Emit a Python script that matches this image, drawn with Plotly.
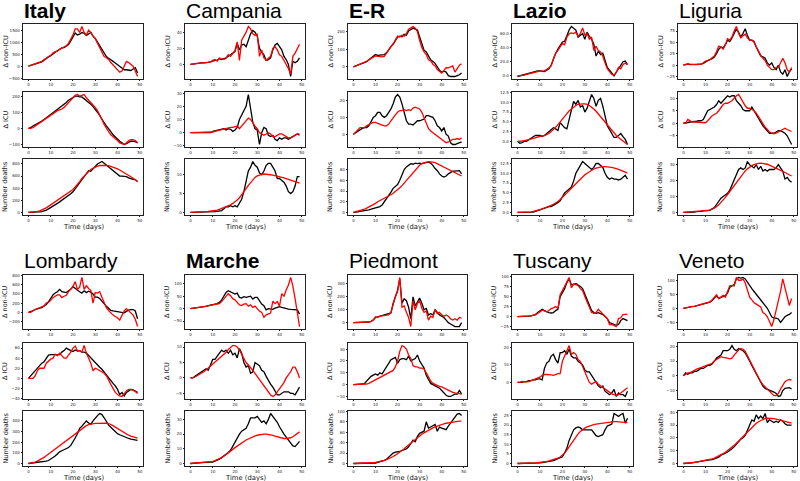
import plotly.graph_objects as go

W, H = 800, 481
DAYS = list(range(50))
X_TICKS = [0, 10, 20, 30, 40, 50]
ROW_LABELS = ["Δ non-ICU", "Δ ICU", "Number deaths"]

# ---------------- Italy ----------------
ITALY_NI_OBS = [0,30,60,100,130,150,180,250,330,380,
                430,520,580,640,700,760,770,820,900,1050,
                1200,1380,1300,1330,1400,1370,1280,1350,1400,1250,
                1150,1000,850,680,500,400,330,280,200,130,
                60,0,-80,-150,-150,-160,-180,-120,-60,-280]
ITALY_NI_MOD = [0,30,70,110,130,160,200,270,350,400,
                450,550,600,620,700,750,800,850,950,1100,
                1300,1550,1550,1400,1650,1400,1300,1500,1400,1250,
                1150,950,750,550,400,350,280,150,50,-50,
                -180,-250,-200,0,200,150,60,0,-200,-430]
ITALY_ICU_OBS = [0,5,15,22,30,35,45,55,65,80,
                 85,95,105,115,130,140,150,160,175,185,
                 190,200,200,195,195,185,175,165,150,135,
                 120,100,80,55,35,15,0,-20,-40,-55,
                 -70,-80,-90,-100,-95,-85,-80,-80,-82,-90]
ITALY_ICU_MOD = [0,0,5,15,25,35,40,50,60,75,
                 85,95,105,110,115,120,130,145,165,180,
                 190,205,210,200,205,210,190,175,165,150,
                 130,110,85,55,25,0,-20,-40,-55,-65,
                 -75,-90,-95,-100,-90,-75,-70,-70,-75,-90]
ITALY_D_OBS = [0,0,0,2,5,8,15,25,40,60,
               80,100,130,150,175,200,220,250,280,310,
               340,390,450,510,560,600,650,690,680,720,
               770,800,820,840,810,780,750,710,680,650,
               620,600,600,595,590,570,555,545,540,510]
ITALY_D_MOD = [0,2,5,10,18,28,40,55,75,100,
               125,150,175,200,225,250,275,300,325,350,
               380,420,460,510,560,600,640,680,710,730,
               750,765,775,780,780,778,772,762,750,735,
               720,700,680,660,640,615,590,565,540,510]
ITALY_TICKS = [[-500,0,500,1000,1500],[-100,0,100,200],[0,200,400,600,800]]

# ---------------- Campania ----------------
CAMPANIA_NI_OBS = [0,0.5,1,1,1.5,2,2,2,2.5,3,
                   4,5,5,7,6,7,8,10,12,14,
                   16,26,18,24,25,22,30,38,42,40,
                   35,20,15,12,5,6,8,18,24,26,
                   22,18,10,6,0,-15,4,2,4,8]
CAMPANIA_NI_MOD = [0,0.5,1,1.5,2,2,2,2.5,3,3,
                   5,6,4,8,7,6,8,12,10,14,
                   17,28,5,30,35,40,47,44,38,36,
                   38,10,18,8,5,8,10,20,22,18,
                   12,10,5,0,-5,-12,10,14,20,25]
CAMPANIA_ICU_OBS = [0,0,0,0,0,0,0,0,0,0,
                    1,1.5,2,2,2.5,3,2,3,2.5,1,
                    2,4,10,13,16,20,29,18,8,3,
                    2,-9,0,4,3,-2,-3,-2,-5,-6,
                    -4,-5,-4,-4,-5,-4,-3,-2,-1,-2]
CAMPANIA_ICU_MOD = [0,0,0,0,0,0,0,0,0,0,
                    0.5,1,1.5,2,2.5,3,3,3.5,4,4,
                    4.5,5,3,5,7,9,11,10,7,5,
                    3,0,-1,-2,-1,0,-1,-3,-3,-2,
                    -1,-1,-2,-3,-4,-4,-3,-2,-1,-1]
CAMPANIA_D_OBS = [0,0,0,0,0,0,0,0,0,0,
                  0.1,0.2,0.3,0.3,0.5,1,1.5,1.5,1.8,1.5,
                  1.8,1.5,2.5,3.5,5.5,8,11,12,13.5,12.5,
                  12,10.5,10,11,12.5,13,13,12,11,9,
                  9,8.5,8,7,5.5,5,5.5,7,9.5,9.5]
CAMPANIA_D_MOD = [0,0,0.02,0.05,0.08,0.1,0.15,0.2,0.25,0.3,
                  0.4,0.5,0.6,0.8,1,1.2,1.4,1.7,2,2.4,
                  2.8,3.3,3.9,4.6,5.4,6.3,7.2,8,8.7,9.3,
                  9.7,10,10.1,10.2,10.2,10.1,10,9.9,9.8,9.7,
                  9.6,9.4,9.2,9,8.8,8.6,8.4,8.2,8,7.8]
CAMPANIA_TICKS = [[0,20,40],[-10,0,10,20,30],[0,5,10]]

# ---------------- Emilia-Romagna ----------------
ER_NI_OBS = [0,5,10,15,22,25,30,40,50,60,
             70,65,68,68,70,80,100,115,130,150,
             170,175,172,185,180,205,215,220,215,210,
             170,130,95,85,60,40,30,20,0,-20,
             -30,-25,-30,-50,-55,-55,-55,-50,-45,-35]
ER_NI_MOD = [0,5,12,18,22,25,32,40,48,55,
             62,60,58,57,60,80,100,115,130,150,
             175,170,180,175,190,215,225,230,220,200,
             150,110,85,70,40,35,15,5,-15,-25,
             -35,-20,-5,-5,0,5,-30,-10,10,18]
ER_ICU_OBS = [0,1,2,3,3.5,4,4,5,8,10,
              11,13,13,11,10,11,13,15,18,22,
              23.5,22,18,12,8,6,6,5.5,6.5,8,
              8,8.5,9,11,11,10.5,10,8,5,4,
              2,4,0,-1,-5,-6,-6,-5.5,-5,-4.5]
ER_ICU_MOD = [0,1.5,3,4,4,4,5,6,6.5,7,
              7,6.5,6,5.5,5,5,6,8,10,11.5,
              13,14,14,14.5,14,14.5,14,15.5,16,15.5,
              15,13,10,6,3.5,2,1,0,-1,-2,
              -3,-4,-5,-4.5,-3.5,-3,-3,-2.5,-3,-2]
ER_D_OBS = [0,0,1,2,2.5,3,4,5,6,7,
            8,9,11,14,20,25,30,38,45,48,
            52,60,70,80,85,88,91,90,92,91,
            92,91,92,93,94,92,88,82,78,72,
            68,66,68,72,75,77,77,78,78,72]
ER_D_MOD = [0,1,2,3,4.5,6,8,10,12,14,
            17,20,22,25,27,29,31,33,36,39,
            42,46,50,55,60,65,70,75,80,84,
            88,91,93,94,95,95,94,93,91,89,
            87,85,83,81,79,77,75,73,71,68]
ER_TICKS = [[0,100,200],[0,10,20],[0,20,40,60,80,100]]

# ---------------- Lazio ----------------
LAZIO_NI_OBS = [-1,0,0,1,2,3,4,5,6,7,
                7,7,6,8,10,15,25,32,38,43,
                48,49,58,65,70,68,65,55,58,60,
                52,62,56,52,45,28,35,30,32,22,
                12,8,3,0,5,10,15,20,21,16]
LAZIO_NI_MOD = [0,0,0,1,2,3,4,5,5.5,6,
                6.5,7,7,9,11,14,24,32,36,42,
                46,44,55,60,61,60,62,56,60,68,
                58,60,52,55,36,42,36,34,28,18,
                10,6,2,1,5,12,10,16,18,16]
LAZIO_ICU_OBS = [0,-0.5,-0.3,0,0,0.3,0.8,1.2,1.5,1.5,
                 1.5,1.3,1.5,2,2.5,3,3.5,3.2,2.8,4.8,
                 4,3.5,3.2,6,8,10.2,9.5,10.5,8.8,9.2,
                 7.5,8.5,10.5,12,11,9,10.5,11,9,6,
                 4,3,2,1,1,1.5,2,1.2,0.5,-0.8]
LAZIO_ICU_MOD = [0,0,0.1,0.2,0.3,0.4,0.6,0.8,1,1.2,
                 1.3,1.4,1.5,1.7,2,2.5,3,3.6,4.3,5,
                 5.8,6.5,7.2,7.8,8.3,8.8,9.2,9.5,9.6,9.6,
                 9.6,9.5,9.2,8.8,8.3,7.7,7,6.3,5.5,4.7,
                 4,3.3,2.6,2,1.5,1,0.5,0,-0.4,-0.8]
LAZIO_D_OBS = [0,0,0,0,0,0,0,0.1,0.3,0.5,
               0.8,1,1,1.2,1.5,1.5,1.8,2,2.5,3,
               4,5,5.5,6,6.5,8,10,11,12,13,
               12.5,12,11.5,11,11.5,12.5,12.5,12,11.5,10,
               9,8.5,8.8,8.5,8.5,8.3,8.5,9,9.5,8.5]
LAZIO_D_MOD = [0,0,0,0,0.05,0.1,0.15,0.25,0.35,0.5,
               0.7,0.9,1.1,1.3,1.5,1.8,2.1,2.4,2.8,3.3,
               3.8,4.4,5,5.6,6.2,6.8,7.4,8,8.6,9.1,
               9.6,10,10.4,10.8,11.1,11.3,11.5,11.6,11.7,11.7,
               11.7,11.6,11.5,11.4,11.2,11,10.8,10.5,10.3,10]
LAZIO_TICKS = [[0,20,40,60],[0,2.5,5,7.5,10,12.5],[0,2.5,5,7.5,10,12.5]]

# ---------------- Liguria ----------------
LIG_NI_OBS = [0,1,2,1,1,1,1,1,2,4,
              8,10,12,14,18,25,35,40,38,45,
              55,52,60,70,80,72,62,70,80,65,
              55,55,52,40,28,20,18,15,5,0,
              5,-5,-10,0,-15,-20,-10,-25,-15,-8]
LIG_NI_MOD = [0,2,3,2,1,1,1,1,2,5,
              9,10,12,16,20,30,42,40,35,45,
              58,55,62,75,85,70,60,65,68,60,
              55,55,50,40,30,22,15,10,0,-5,
              -10,-10,-5,-5,5,15,5,-10,-15,-5]
LIG_ICU_OBS = [0,0,0.3,0.5,0.5,0.6,0.8,1,1,1.5,
               3,5,5.5,6,6.5,7.5,9,8,9,10,
               11,10.5,11,11,9,8,7,5.5,5,5,
               5,6.5,5,3.5,2,0,-1,-2,-3,-4,
               -4,-4,-3.5,-3,-3,-3.5,-4,-5,-6.5,-8.5]
LIG_ICU_MOD = [0,0,1.5,1,0.5,0.5,0.5,0.5,0.3,0.2,
               0.2,1,2,3,3.5,4,5,6.5,7.5,8,
               8,8.5,9,10,11,11.5,10,8,7,6,
               6,5.5,5,4,2.5,1,-0.5,-1.5,-2.5,-3.5,
               -4,-4.2,-4,-3.5,-3,-2.5,-2,-2.5,-3,-3.3]
LIG_D_OBS = [0,0,0.1,0.1,0.2,0.3,0.5,0.5,0.7,1,
             1,1.2,1.5,2,3,5,7,9,10,11,
             12,14,17,20,23,27,28,27,28,32,
             30,29,28,30,27,29,26,27,26,27,
             27,27,28,30,28,26,21,22,20,19]
LIG_D_MOD = [0,0.1,0.2,0.3,0.4,0.5,0.6,0.7,0.8,0.9,
             1,1.2,1.5,2,2.7,3.6,4.8,6.2,7.8,9.5,
             11.3,13.2,15.2,17.2,19.2,21.1,22.9,24.6,26.1,27.4,
             28.5,29.4,30.1,30.6,30.9,31,30.9,30.7,30.3,29.8,
             29.2,28.6,27.9,27.2,26.5,25.8,25.1,24.3,23.6,22.9]
LIG_TICKS = [[-25,0,25,50,75],[-5,0,5,10],[0,10,20,30]]

# ---------------- Lombardy ----------------
LOM_NI_OBS = [0,10,30,60,80,90,100,130,170,230,
              300,380,420,450,500,450,440,430,470,500,
              560,520,470,450,420,470,430,460,440,400,
              330,330,300,240,180,130,90,40,30,20,
              15,10,0,-10,20,50,60,60,30,-140]
LOM_NI_MOD = [0,0,40,60,80,90,110,140,200,220,
              260,320,350,380,380,320,350,370,450,500,
              560,670,500,550,760,500,580,520,480,200,
              430,420,450,330,200,100,40,-20,-60,-90,
              -120,-170,-80,30,80,30,-30,-60,-150,-310]
LOM_ICU_OBS = [0,5,12,16,20,25,30,33,40,46,
               47,47,46,46,47,52,55,60,57,55,
               53,56,54,55,52,52,50,45,40,36,
               30,25,22,18,12,8,0,-5,-10,-15,
               -22,-32,-28,-35,-28,-25,-22,-23,-25,-28]
LOM_ICU_MOD = [0,0,0,5,15,20,20,20,30,35,
               38,40,48,45,50,45,40,40,45,52,
               60,64,55,55,52,65,50,40,30,15,
               20,18,15,12,10,5,-5,-12,-20,-28,
               -32,-35,-36,-30,-25,-22,-22,-24,-26,-30]
LOM_D_OBS = [0,2,4,6,8,10,14,18,22,28,
             40,55,70,90,110,120,130,140,150,170,
             200,240,280,330,350,380,400,380,370,400,
             430,450,470,460,430,390,360,340,320,300,
             280,270,260,250,240,235,230,225,222,218]
LOM_D_MOD = [0,3,8,14,22,32,44,58,72,88,
             104,120,137,154,170,186,200,214,228,242,
             258,275,292,310,328,344,356,366,372,375,
             377,378,379,380,381,380,376,368,356,342,
             328,314,300,288,276,266,258,250,244,238]
LOM_TICKS = [[-200,0,200,400,600,800],[-40,-20,0,20,40,60],[0,100,200,300,400]]

# ---------------- Marche ----------------
MAR_NI_OBS = [0,1,2,3,4,5,7,9,12,15,
              17,18,20,25,35,50,65,72,68,62,
              58,62,45,42,48,45,48,50,38,45,
              45,30,18,12,-5,0,0,-3,2,5,
              8,5,2,0,-2,-3,-3,-2,-5,-22]
MAR_NI_MOD = [0,1,2,3,4,5,7,9,11,13,
              15,16,18,20,28,38,50,60,52,40,
              35,25,15,12,18,20,10,15,5,10,
              0,-10,-15,-35,-25,-20,-18,30,20,28,
              10,60,50,75,95,125,90,40,-20,-72]
MAR_ICU_OBS = [0,0,0.5,1,1.5,2,2.5,3,2.5,4,
               6,6,7,8,9,8.5,9,8,9,7.5,
               8,6.5,9.5,8,5,3.5,4,1.5,2,5,
               4.5,4,2.5,2,0.5,-1,-2,-3,-4.5,-5.5,
               -5.5,-5,-4.5,-4.5,-4.5,-5,-5,-5.5,-4,-3]
MAR_ICU_MOD = [0,0,0.3,0.7,1,1.5,2,2.6,3.2,3.8,
               4.4,5,5.6,6.2,6.8,7.5,8.3,9.2,10,10.5,
               10.5,10,9,7.5,6,5,4.2,3.5,2.5,1.5,
               0.5,-0.5,-1.5,-2.5,-3.5,-4.5,-5.5,-6,-5.5,-4.5,
               -3.5,-2.5,-1.5,0,1,2,3.5,3.5,2,0]
MAR_D_OBS = [0,0,0.2,0.3,0.5,0.6,0.8,1,1,1,
             1,1.5,2,3,4,5,6,7.5,9,12,
             15,18,20,22,23,24,27,31,31,31,
             32,30,28,29,27,30,34,32,30,28,
             25,22,20,18,16,14,12,11.5,13,15]
MAR_D_MOD = [0,0.1,0.2,0.3,0.4,0.5,0.6,0.8,1,1.2,
             1.5,2,2.5,3.2,4,5,6,7.2,8.4,9.6,
             10.8,12,13,14,15,16,16.8,17.5,18.2,18.8,
             19.2,19.6,19.8,20,20,19.8,19.5,19.1,18.6,18.1,
             17.6,17.2,17,17,17.1,17.5,18.2,19.2,20.4,21.5]
MAR_TICKS = [[-50,0,50,100],[-5,0,5,10],[0,10,20,30]]

# ---------------- Piedmont ----------------
PIE_NI_OBS = [0,0,0,0,0,1,2,5,10,20,
              40,45,50,50,55,60,65,75,150,200,
              250,340,150,185,170,120,30,200,130,160,
              190,150,100,110,60,70,60,100,80,60,
              50,40,20,0,-10,-20,-30,-30,-30,0]
PIE_NI_MOD = [0,0,0,0,0,1,2,5,10,20,
              45,40,50,50,55,58,60,80,150,200,
              240,350,120,130,80,40,-30,170,100,150,
              170,110,80,90,20,50,40,100,70,80,
              60,50,60,50,30,20,30,20,40,35]
PIE_ICU_OBS = [0,0,0,0,0.5,1,3,5,7,8,
               9,8,10,9,12,15,18,21,22,23,
               18,21,22,22,21,24,20,21,22,25,
               20,17,14,8,4,1,0,-1,-2,-3,
               -5,-7,-9,-10,-10,-9,-8,-8,-5,-8]
PIE_ICU_MOD = [0,0,0,0,0,0.2,0.5,1,2,3,
               4,5,6,7,8,9,10,11,12,15,
               20,28,33,32,30,25,22,16,15,15,
               14,14,13,10,6,3,1,0,-1,-1.5,
               -2,-3,-4,-5,-6,-6.5,-7,-7.5,-8,-8]
PIE_D_OBS = [0,0,0,0,0,0,0,0.2,0.3,0.5,
             1,2,3,4,6,8,12,16,20,22,
             22,23,25,26,28,32,38,45,42,52,
             58,60,62,80,68,70,72,75,62,70,
             68,66,65,72,78,82,88,95,96,92]
PIE_D_MOD = [0,0,0,0.1,0.2,0.3,0.5,0.7,1,1.4,
             2,2.7,3.6,4.7,6,7.5,9.2,11.2,13.5,16,
             18.8,21.8,25,28.5,32,35.6,39.2,42.8,46.3,49.7,
             53,56,58.9,61.6,64.1,66.4,68.5,70.4,72.1,73.6,
             75,76.2,77.3,78.2,79,79.7,80.3,80.8,81.2,81.5]
PIE_TICKS = [[0,100,200,300],[-10,0,10,20,30],[0,20,40,60,80,100]]

# ---------------- Tuscany ----------------
TUS_NI_OBS = [0,0,0,0.5,1,1,2,3,5,10,
              15,18,15,12,10,9,10,15,18,50,
              60,70,85,95,80,80,83,80,75,70,
              55,40,25,15,10,8,10,8,5,0,
              -5,-15,-18,-20,-22,-20,-10,-5,-8,-10]
TUS_NI_MOD = [0,0,0,0.5,1,1.5,2,3,5,8,
              12,16,14,12,15,20,22,25,20,55,
              65,75,85,98,72,82,80,78,70,65,
              50,35,20,10,8,10,18,12,5,0,
              -5,-20,-20,-22,-25,-5,-3,5,5,6]
TUS_ICU_OBS = [0,0,0,0.5,0.5,1,1,1.5,1.5,2,
               2,1.5,8,11,12,15,16,13,11,17,
               17,18,16,19,15,14,14,12,11,10,
               7,6,6,4,2,0,-2,-3,-2,-5,
               -6,-7,-6,-4,-8,-6,-7,-7,-8,-5]
TUS_ICU_MOD = [0,0,0.5,0.3,0.3,0.5,1,1.5,2,2.5,
               3,4,4.5,4.5,4.5,4.3,4,4.5,5,5,
               12,15,18,21,16,17,16,13,12,9,
               6,2,0,-1,0,0.5,-1,-2,-3,-4,
               -5,-6,-6.5,-7,-7.5,-7,-6,-5,-4,-3]
TUS_D_OBS = [0,0,0,0,0,0,0,0,0.1,0.1,
             0.3,0.5,0.7,0.8,1,1.2,1.5,2,2.5,3,
             3.5,5.5,8,12,15,17.5,18.5,19,18.5,17.5,
             17.5,17.5,17.8,17.5,16,14.5,14,14.5,15,17.5,
             19.5,20,20.5,26,25,24.5,25.5,26,21,23.5]
TUS_D_MOD = [0,0,0,0,0.05,0.1,0.15,0.2,0.3,0.4,
             0.5,0.7,0.9,1.1,1.4,1.7,2,2.4,2.8,3.4,
             4.2,5.4,7,8.8,10.6,12.4,14,15.4,16.6,17.6,
             18.4,19,19.5,19.9,20.2,20.5,20.7,20.9,21.1,21.3,
             21.5,21.6,21.7,21.8,21.8,21.7,21.6,21.5,21.4,21.3]
TUS_TICKS = [[-25,0,25,50,75,100],[-10,0,10,20],[0,5,10,15,20,25]]

# ---------------- Veneto ----------------
VEN_NI_OBS = [0,2,4,5,6,7,9,12,14,15,
              18,20,22,28,38,45,35,40,42,45,
              55,75,80,85,105,110,108,110,105,92,
              80,70,60,50,40,30,22,10,0,-15,
              -30,-35,-35,-38,-50,-40,-30,-25,-22,-15]
VEN_NI_MOD = [0,2,4,5,7,7,9,12,14,15,
              18,21,23,30,40,48,35,42,46,40,
              60,80,82,80,110,100,100,105,90,60,
              40,30,20,15,10,5,-15,-20,-30,-50,
              -65,-40,-10,30,60,105,70,40,10,35]
VEN_ICU_OBS = [0,2,1,2,2,3,3,4,5,5,
               6,7,7,8,10,12,13,14,17,17,
               17,18,20.5,18,17,18.5,18,17,15.5,13,
               10,7,4,1,-2,-5,-7,-8.5,-9,-10,
               -10,-11,-12,-14,-13.5,-10,-8.5,-8,-8,-9]
VEN_ICU_MOD = [0,1,2,2,3,4,4.5,5,5.5,6,
               6.5,7.5,8,8.5,10,11,12,13,12.5,12.5,
               12,11.5,12,14,16,17.5,18.5,18,16.5,13.5,
               10.5,7.5,4.5,1.5,-1.5,-4,-6,-7.5,-9,-11,
               -12.5,-13.5,-13.5,-12,-9,-6,-4,-3,-2.5,-3]
VEN_D_OBS = [0,0,0.2,0.3,0.5,0.8,1,1.2,1.5,2,
             2.5,2.5,2.5,3,3.5,4,5,6.5,7,8,
             9,10,11.5,13,15,17,19,20,22,26,
             30,34,33,38,35,37,35,39,32,34,
             33,32,33,32,34,33,31,30,30,30]
VEN_D_MOD = [0,0.1,0.3,0.5,0.7,0.9,1.1,1.4,1.7,2,
             2.4,2.8,3.2,3.7,4.3,5,5.8,6.7,7.7,8.8,
             10,11.3,12.7,14.2,15.8,17.5,19.3,21.1,23,24.9,
             26.7,28.4,30,31.4,32.6,33.6,34.4,35,35.3,35.4,
             35.3,35,34.6,34.1,33.6,33.1,32.6,32.2,31.8,31.5]
VEN_TICKS = [[-50,0,50,100],[-10,0,10,20],[0,10,20,30,40]]

REGIONS = [
    ("Italy", 700, [(ITALY_NI_OBS, ITALY_NI_MOD), (ITALY_ICU_OBS, ITALY_ICU_MOD), (ITALY_D_OBS, ITALY_D_MOD)], ITALY_TICKS, False),
    ("Campania", 400, [(CAMPANIA_NI_OBS, CAMPANIA_NI_MOD), (CAMPANIA_ICU_OBS, CAMPANIA_ICU_MOD), (CAMPANIA_D_OBS, CAMPANIA_D_MOD)], CAMPANIA_TICKS, False),
    ("E-R", 700, [(ER_NI_OBS, ER_NI_MOD), (ER_ICU_OBS, ER_ICU_MOD), (ER_D_OBS, ER_D_MOD)], ER_TICKS, False),
    ("Lazio", 700, [(LAZIO_NI_OBS, LAZIO_NI_MOD), (LAZIO_ICU_OBS, LAZIO_ICU_MOD), (LAZIO_D_OBS, LAZIO_D_MOD)], LAZIO_TICKS, True),
    ("Liguria", 400, [(LIG_NI_OBS, LIG_NI_MOD), (LIG_ICU_OBS, LIG_ICU_MOD), (LIG_D_OBS, LIG_D_MOD)], LIG_TICKS, False),
    ("Lombardy", 400, [(LOM_NI_OBS, LOM_NI_MOD), (LOM_ICU_OBS, LOM_ICU_MOD), (LOM_D_OBS, LOM_D_MOD)], LOM_TICKS, False),
    ("Marche", 700, [(MAR_NI_OBS, MAR_NI_MOD), (MAR_ICU_OBS, MAR_ICU_MOD), (MAR_D_OBS, MAR_D_MOD)], MAR_TICKS, False),
    ("Piedmont", 400, [(PIE_NI_OBS, PIE_NI_MOD), (PIE_ICU_OBS, PIE_ICU_MOD), (PIE_D_OBS, PIE_D_MOD)], PIE_TICKS, False),
    ("Tuscany", 400, [(TUS_NI_OBS, TUS_NI_MOD), (TUS_ICU_OBS, TUS_ICU_MOD), (TUS_D_OBS, TUS_D_MOD)], TUS_TICKS, False),
    ("Veneto", 400, [(VEN_NI_OBS, VEN_NI_MOD), (VEN_ICU_OBS, VEN_ICU_MOD), (VEN_D_OBS, VEN_D_MOD)], VEN_TICKS, False),
]

# layout geometry (pixels)
COL_LEFT = [23, 185, 348, 512, 678]
COL_RIGHT = [143, 305, 467, 633, 797]
HALF_ROWS = [[(24, 79), (92, 147), (159, 215)],
             [(275, 329), (343, 399), (411, 466)]]
TITLE_MID = [10, 260]
XLABEL_MID = [227, 477.5]

AX_COLOR = "#222222"
TICK_FONT = dict(family="DejaVu Sans, sans-serif", size=4, color=AX_COLOR)
LABEL_FAMILY = "DejaVu Sans, sans-serif"
TITLE_FAMILY = "Liberation Sans, Arial, Helvetica, sans-serif"


def fmt(v, decimal):
    s = f"{v:.1f}" if decimal else f"{v:g}"
    return s.replace("-", "\u2212")


fig = go.Figure()
layout = {}
annotations = []
k = 0
for ri, (name, weight, rows, ticks, decimal) in enumerate(REGIONS):
    half, col = divmod(ri, 5)
    left, right = COL_LEFT[col], COL_RIGHT[col]
    for r in range(3):
        k += 1
        obs, mod = rows[r]
        top, bot = HALF_ROWS[half][r]
        xa = "x" if k == 1 else f"x{k}"
        ya = "y" if k == 1 else f"y{k}"
        fig.add_trace(go.Scatter(x=DAYS, y=obs, mode="lines", xaxis=xa, yaxis=ya,
                                 line=dict(color="black", width=1.3),
                                 showlegend=False, hoverinfo="skip"))
        fig.add_trace(go.Scatter(x=DAYS, y=mod, mode="lines", xaxis=xa, yaxis=ya,
                                 line=dict(color="#ff0000", width=1.3),
                                 showlegend=False, hoverinfo="skip"))
        vals = list(obs) + list(mod)
        lo, hi = min(vals), max(vals)
        pad = 0.05 * (hi - lo)
        common = dict(showline=True, mirror=True, linecolor=AX_COLOR, linewidth=0.8,
                      ticks="outside", ticklen=1.5, tickwidth=0.6, tickcolor=AX_COLOR,
                      tickfont=TICK_FONT, showgrid=False, zeroline=False, fixedrange=True,
                      automargin=False)
        layout["xaxis" if k == 1 else f"xaxis{k}"] = dict(
            domain=[left / W, right / W], anchor=ya, range=[-2.45, 51.45],
            tickvals=X_TICKS, ticktext=[str(t) for t in X_TICKS], **common)
        layout["yaxis" if k == 1 else f"yaxis{k}"] = dict(
            domain=[1 - bot / H, 1 - top / H], anchor=xa, range=[lo - pad, hi + pad],
            tickvals=ticks[r], ticktext=[fmt(t, decimal) for t in ticks[r]], **common)
        annotations.append(dict(
            text=ROW_LABELS[r], xref="paper", yref="paper",
            x=(left - 18) / W, y=1 - (top + bot) / 2 / H, textangle=-90,
            xanchor="center", yanchor="middle", showarrow=False,
            font=dict(family=LABEL_FAMILY, size=6.5, color="#111111")))
    annotations.append(dict(
        text=name, xref="paper", yref="paper", x=(left - 1) / W, y=1 - TITLE_MID[half] / H,
        xanchor="left", yanchor="middle", showarrow=False,
        font=dict(family=TITLE_FAMILY, size=21, color="black", weight=weight)))
    annotations.append(dict(
        text="Time (days)", xref="paper", yref="paper", x=(left + right) / 2 / W,
        y=1 - XLABEL_MID[half] / H, xanchor="center", yanchor="middle", showarrow=False,
        font=dict(family=LABEL_FAMILY, size=6.8, color="#111111")))

fig.update_layout(width=W, height=H, margin=dict(l=0, r=0, t=0, b=0, autoexpand=False),
                  plot_bgcolor="white", paper_bgcolor="white", showlegend=False,
                  annotations=annotations, **layout)
fig.write_html("out.html", config={"displayModeBar": False},
               post_script="document.body.style.margin='0';document.body.style.padding='0';")
